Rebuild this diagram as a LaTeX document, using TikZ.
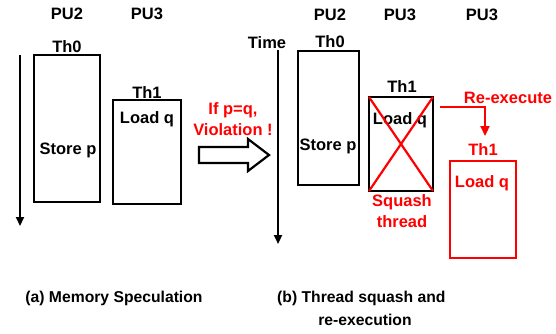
\documentclass[tikz,border=0pt]{standalone}
\usepackage{fontspec}
\setmainfont{Liberation Sans}
\usetikzlibrary{arrows.meta}
\definecolor{vred}{RGB}{255,0,0}
\begin{document}
\begin{tikzpicture}[x=1pt,y=-1pt,
  lbl/.style={font=\bfseries\fontsize{16.5}{18}\selectfont, inner sep=0pt},
  rlbl/.style={lbl, text=vred},
  twoline/.style={align=center, font=\bfseries\fontsize{16.5}{21}\selectfont},
  captxt/.style={font=\bfseries\fontsize{15.7}{19}\selectfont, inner sep=0pt, align=center},
  thbox/.style={draw=black, line width=2.2pt},
  rbox/.style={draw=vred, line width=2.2pt},
  timeline/.style={line width=2.2pt, -{Triangle[length=9pt,width=8pt]}},
]
\useasboundingbox (0,0) rectangle (556,333);
% ---------- panel (a) ----------
\coordinate (ta1) at (20,55);
\coordinate (ta2) at (20,226);
\draw[timeline] (ta1) -- (ta2);
\node[lbl] (apu2) at (67,14) {PU2};
\node[lbl] (apu3) at (147,14) {PU3};
\node[lbl] (ath0) at (67,47) {Th0};
\draw[thbox] (34,55) rectangle (100,202);
\node[lbl] (astore) at (68,150) {Store p};
\node[lbl] (ath1) at (147,93) {Th1};
\draw[thbox] (113,100) rectangle (181,204);
\node[lbl] (aload) at (147,119) {Load q};
\node[rlbl, twoline] (viol) at (233,119) {If p=q,\\Violation !};
% block arrow
\draw[line width=2.2pt, line join=miter] (199,147) -- (248,147) -- (248,139) -- (269,155) -- (248,171) -- (248,163) -- (199,163) -- cycle;
% ---------- panel (b) ----------
\node[lbl] (time) at (267,43) {Time};
\coordinate (tb1) at (278,50);
\coordinate (tb2) at (278,244);
\draw[timeline] (tb1) -- (tb2);
\node[lbl] (bpu2) at (330,15) {PU2};
\node[lbl] (bpu3) at (400,15) {PU3};
\node[lbl] (bpu3b) at (482,15) {PU3};
\node[lbl] (bth0) at (330,42) {Th0};
\draw[thbox] (298,51) rectangle (359,185);
\node[lbl] (bstore) at (328,146) {Store p};
\node[lbl] (bth1) at (402,87) {Th1};
\draw[thbox] (369,97) rectangle (433,191);
\node[lbl] (bload) at (400,120) {Load q};
\coordinate (x1) at (369,97);
\coordinate (x2) at (433,191);
\coordinate (x3) at (433,97);
\coordinate (x4) at (369,191);
\draw[vred, line width=2.2pt] (x1) -- (x2);
\draw[vred, line width=2.2pt] (x3) -- (x4);
\node[rlbl, twoline] (squash) at (402,211) {Squash\\thread};
\node[rlbl] (reexec) at (508,98) {Re-execute};
\coordinate (r1) at (440,107);
\coordinate (r2) at (485,107);
\coordinate (r3) at (485,136);
\draw[vred, line width=2.2pt, -{Triangle[length=10pt,width=9pt]}] (r1) -- (r2) -- (r3);
\node[rlbl] (rth1) at (483,150) {Th1};
\draw[rbox] (450,161) rectangle (516,258);
\node[rlbl] (rload) at (482,183) {Load q};
% ---------- captions ----------
\node[captxt] (capa) at (114,298) {(a) Memory Speculation};
\node[captxt, anchor=west] (capb) at (277,298) {(b) Thread squash and};
\node[captxt] (capb2) at (365,320) {re-execution};
\end{tikzpicture}
\end{document}
